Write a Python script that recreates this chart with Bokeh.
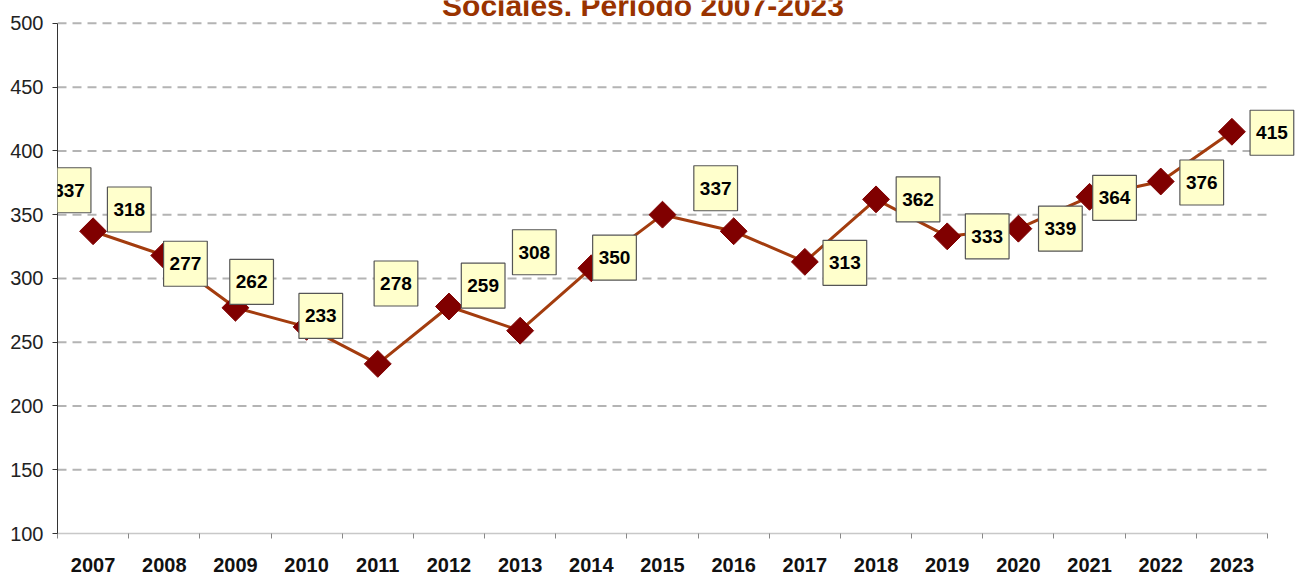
from bokeh.plotting import figure
from bokeh.models import FixedTicker, Range1d, Label
from bokeh.embed import file_html
from bokeh.resources import INLINE
import numpy as np

years = ["2007", "2008", "2009", "2010", "2011", "2012", "2013", "2014", "2015",
         "2016", "2017", "2018", "2019", "2020", "2021", "2022", "2023"]
values = [337, 318, 277, 262, 233, 278, 259, 308, 350, 337, 313, 362, 333, 339, 364, 376, 415]
y_ticks = [100, 150, 200, 250, 300, 350, 400, 450, 500]
title_text = "Sociales. Periodo 2007-2023"

# label box offsets from their point, in pixels (right, down)
label_dx = [-24, -35, -50, -55, -57, -53, -37, -57, -48, -18, 40, 42, 40, 42, 25, 41, 40]
label_dy = [-41, -46, -44, -45, -48, -23, -45, -16, 43, -43, 1, 0, 0, 0, 1, 1, 1]

W, H = 1299, 574
LEFT, RIGHT, TOP, BOTTOM = 57, 0, 0, 38
n = len(years)
plot_w = 1210          # pixel width of the category area
plot_h = 513           # pixel height from 100 to 500
px_x = plot_w / n
px_y = plot_h / (y_ticks[-1] - y_ticks[0])
frame_w = W - LEFT - RIGHT
frame_h = H - TOP - BOTTOM
x_end = -0.5 + frame_w / px_x
y_end = y_ticks[0] + frame_h / px_y

xs = list(range(n))

p = figure(width=W, height=H, output_backend="svg", toolbar_location=None,
           x_range=Range1d(-0.5, x_end), y_range=Range1d(y_ticks[0], y_end),
           min_border_left=LEFT, min_border_right=RIGHT,
           min_border_top=TOP, min_border_bottom=BOTTOM)
p.outline_line_color = None
p.background_fill_color = "white"
p.border_fill_color = "white"

# axes
p.xaxis.ticker = FixedTicker(ticks=xs, minor_ticks=[i - 0.5 for i in range(n + 1)])
p.xaxis.bounds = (-0.5, n - 0.5)
p.xaxis.major_label_overrides = {i: y for i, y in enumerate(years)}
p.xaxis.major_tick_out = 0
p.xaxis.major_tick_in = 0
p.xaxis.minor_tick_out = 5
p.xaxis.minor_tick_in = 0
p.xaxis.minor_tick_line_color = "#888888"
p.xaxis.axis_line_color = "#c8c8c8"
p.xaxis.axis_line_width = 1.5
p.xaxis.major_label_text_font = "Liberation Sans"
p.xaxis.major_label_text_font_style = "bold"
p.xaxis.major_label_text_font_size = "20px"
p.xaxis.major_label_text_color = "#111111"
p.xaxis.major_label_standoff = 19

p.yaxis.ticker = FixedTicker(ticks=y_ticks)
p.yaxis.bounds = (y_ticks[0], y_ticks[-1])
p.yaxis.minor_tick_line_color = None
p.yaxis.major_tick_out = 5
p.yaxis.major_tick_in = 0
p.yaxis.major_tick_line_color = "#333333"
p.yaxis.axis_line_color = "#333333"
p.yaxis.major_label_text_font = "Liberation Sans"
p.yaxis.major_label_text_font_size = "20px"
p.yaxis.major_label_text_color = "#222222"
p.yaxis.major_label_standoff = 9

p.grid.grid_line_color = None
gy = y_ticks[1:]
p.segment(x0=[-0.5] * len(gy), x1=[n - 0.5] * len(gy), y0=gy, y1=gy,
          line_color="#b4b4b4", line_width=2, line_dash="9 6")

# series
p.line(xs, values, line_color="#A33C0E", line_width=3)
p.scatter(xs, values, marker="square", size=19, angle=np.pi / 4,
          fill_color="#800000", line_color="#800000")

for x, v, dx, dy in zip(xs, values, label_dx, label_dy):
    p.add_layout(Label(x=x, y=v, text=str(v), x_offset=dx, y_offset=-dy,
                       text_align="center", text_baseline="middle",
                       text_font="Liberation Sans", text_font_style="bold",
                       text_font_size="19px", text_color="#000000",
                       background_fill_color="#FFFFCC", border_line_color="#555555",
                       border_line_width=1.2,
                       padding=dict(left=6, right=6, top=16, bottom=16)))

title_x = (642.5 - LEFT) / px_x - 0.5
title_y = y_ticks[-1] + (23 - 16) / px_y
p.add_layout(Label(x=title_x, y=title_y, y_offset=11, text=title_text,
                   text_align="center",
                   text_baseline="alphabetic", text_font="Liberation Sans",
                   text_font_style="bold", text_font_size="30px",
                   text_color="#993300"))

open("out.html", "w").write(file_html(p, INLINE))
